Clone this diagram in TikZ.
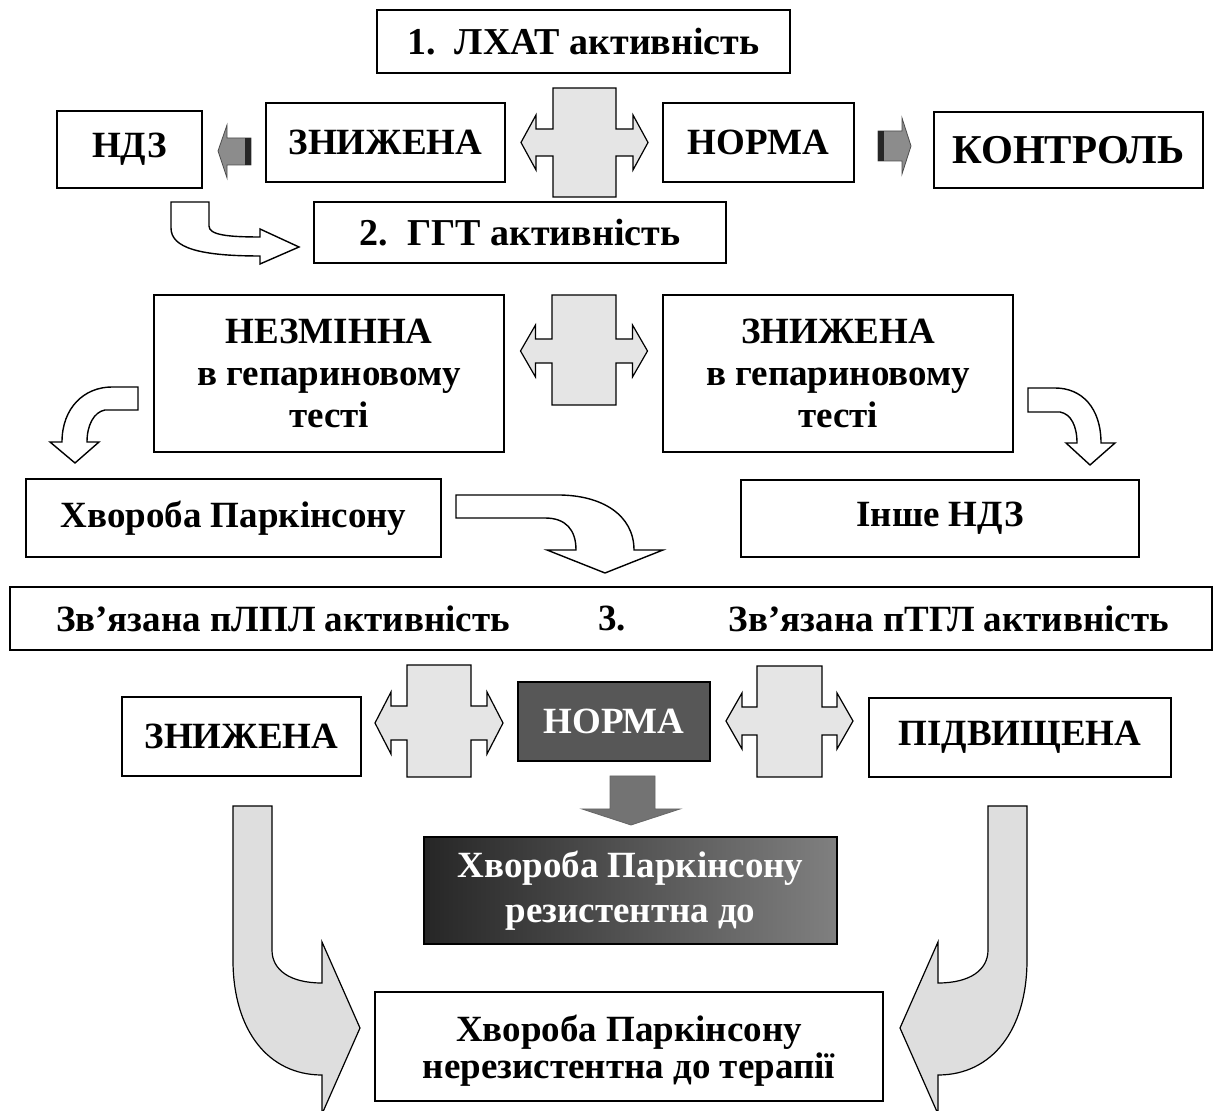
\documentclass[tikz,border=0pt]{standalone}
\usepackage{fontspec}
\setmainfont{Liberation Serif}
\newcommand\txt{\bfseries\fontsize{18.5}{21}\selectfont}
% box from (x1,y1) to (x2,y2) in pixel units
\newcommand\bx[7][]{\node[box,minimum width={(#5-#3)*0.5pt},minimum height={(#6-#4)*0.5pt},#1] (#2) at ({(#3+#5)/2},{(#4+#6)/2}) {#7};}
% cross-shaped double arrow: cx, bar half width, ytop, ybot, tip half span, head centre y, head half height, arm half height, head length
\newcommand\crossar[9]{%
  \path[crossarrow] ({#1-#2},#3) -- ({#1+#2},#3) -- ({#1+#2},{#6-#8}) -- ({#1+#5-#9},{#6-#8}) -- ({#1+#5-#9},{#6-#7}) -- ({#1+#5},#6) -- ({#1+#5-#9},{#6+#7}) -- ({#1+#5-#9},{#6+#8}) -- ({#1+#2},{#6+#8}) -- ({#1+#2},#4) -- ({#1-#2},#4) -- ({#1-#2},{#6+#8}) -- ({#1-#5+#9},{#6+#8}) -- ({#1-#5+#9},{#6+#7}) -- ({#1-#5},#6) -- ({#1-#5+#9},{#6-#7}) -- ({#1-#5+#9},{#6-#8}) -- ({#1-#2},{#6-#8}) -- cycle;}
\begin{document}
\begin{tikzpicture}[x=0.5pt,y=-0.5pt,
  box/.style={draw=black,line width=1pt,fill=white,inner sep=0pt,align=center,font=\txt},
  darkbox/.style={box,text=white},
  lbl/.style={inner sep=0pt,font=\txt},
  crossarrow/.style={draw=black,line width=0.6pt,fill=black!10},
  bigarrow/.style={draw=black,line width=0.6pt,fill=black!13},
  whitearrow/.style={draw=black,line width=0.7pt,fill=white},
  smallarrow/.style={draw=black!70,line width=0.4pt,fill=black!45},
  stripe/.style={fill=black!85},
  downarrow/.style={fill=black!55,draw=black!60,line width=0.4pt}]
\useasboundingbox (0,0) rectangle (1216,1111);
\path[clip] (0,0) rectangle (1216,1111);

% ---- level 1 ----
\bx[font=\bfseries\fontsize{19}{21}\selectfont]{lhat}{377}{10}{790}{73}{1.\ \ ЛХАТ активність}
\bx{ndz}{57}{111}{202}{188}{НДЗ}
\bx{zn1}{266}{103}{505}{182}{ЗНИЖЕНА}
\bx{norm1}{663}{103}{854}{182}{НОРМА}
\bx[font=\bfseries\fontsize{20.5}{22}\selectfont]{ctrl}{934}{112}{1203}{188}{КОНТРОЛЬ}
\crossar{584.5}{31.5}{88}{197}{63.5}{142.5}{27.5}{13.5}{15}
% small arrows
\path[smallarrow] (251,138) -- (227,138) -- (227,125) -- (218,151) -- (227,178) -- (227,165) -- (251,165) -- cycle;
\path[stripe] (245,138) rectangle (251,165);
\path[smallarrow] (878,131) -- (902,131) -- (902,118) -- (911,146) -- (902,174) -- (902,161) -- (878,161) -- cycle;
\path[stripe] (878,131) rectangle (884,161);

% ---- level 2 ----
\bx[font=\bfseries\fontsize{19}{21}\selectfont]{ggt}{314}{202}{726}{263}{2.\ \ ГГТ активність}
\path[whitearrow] (171,202) -- (209,202) -- (209,226) .. controls (209,235) and (228,237) .. (260,237) -- (260,229) -- (299,247) -- (260,264) -- (260,256) .. controls (200,256) and (171,248) .. (171,228) -- cycle;
\bx{nezm}{154}{295}{504}{452}{НЕЗМІННА\\в гепариновому\\тесті}
\bx{zn2}{663}{295}{1013}{452}{ЗНИЖЕНА\\в гепариновому\\тесті}
\crossar{584}{32}{295}{405}{63.5}{351}{26}{12}{15}
\path[whitearrow] (138,387) -- (138,410) -- (105,410) .. controls (94,412) and (87,425) .. (87,442) -- (99,442) -- (75,463) -- (50,442) -- (62,442) .. controls (62,408) and (84,387) .. (112,387) -- cycle;
\path[whitearrow] (1028,388) -- (1028,412) -- (1060,412) .. controls (1071,414) and (1077,426) .. (1077,443) -- (1066,443) -- (1090,465) -- (1115,443) -- (1101,443) .. controls (1101,408) and (1082,388) .. (1055,388) -- cycle;
\bx{park}{26}{479}{441}{557}{Хвороба Паркінсону}
\bx{inshe}{741}{480}{1139}{557}{Інше НДЗ}
\path[whitearrow] (456,495) -- (558,495) .. controls (602,495) and (634,515) .. (634,550) -- (663,550) -- (605,573) -- (547,550) -- (576,550) .. controls (576,530) and (566,518) .. (545,518) -- (456,518) -- cycle;

% ---- level 3 ----
\bx{lpl}{10}{587}{1212}{650}{}
\node[lbl] (t3a) at (283,619) {Зв’язана пЛПЛ активність};
\node[lbl] (t3b) at (612,619) {3.};
\node[lbl] (t3c) at (949,619) {Зв’язана пТГЛ активність};
\bx{zn3}{122}{697}{361}{776}{ЗНИЖЕНА}
\bx[darkbox,fill=black!66]{norm3}{518}{682}{710}{761}{НОРМА}
\bx{pidv}{869}{698}{1171}{777}{ПІДВИЩЕНА}
\crossar{439}{32}{665}{777}{64}{723}{31}{17}{16}
\crossar{789.5}{32.5}{666}{777}{63.5}{721}{28}{14}{16}
\path[downarrow] (610,776) -- (655,776) -- (655,809) -- (680,809) -- (631,825) -- (582,809) -- (610,809) -- cycle;
\bx[darkbox,left color=black!85,middle color=black!74,right color=black!50,font=\bfseries\fontsize{18.5}{22.5}\selectfont]{resist}{424}{837}{837}{944}{Хвороба Паркінсону\\резистентна до}
\bx[font=\bfseries\fontsize{18.5}{18.5}\selectfont,text depth=-4pt]{nonres}{375}{992}{883}{1101}{Хвороба Паркінсону\\нерезистентна до терапії}
\path[bigarrow] (233,806) -- (272,806) -- (272,950) .. controls (272,970) and (290,983) .. (322,983) -- (322,942) -- (360,1028) -- (322,1114) -- (322,1075) .. controls (268,1075) and (233,1030) .. (233,960) -- cycle;
\path[bigarrow] (1027,806) -- (988,806) -- (988,950) .. controls (988,970) and (970,983) .. (938,983) -- (938,942) -- (900,1028) -- (938,1114) -- (938,1075) .. controls (992,1075) and (1027,1030) .. (1027,960) -- cycle;
\end{tikzpicture}
\end{document}
